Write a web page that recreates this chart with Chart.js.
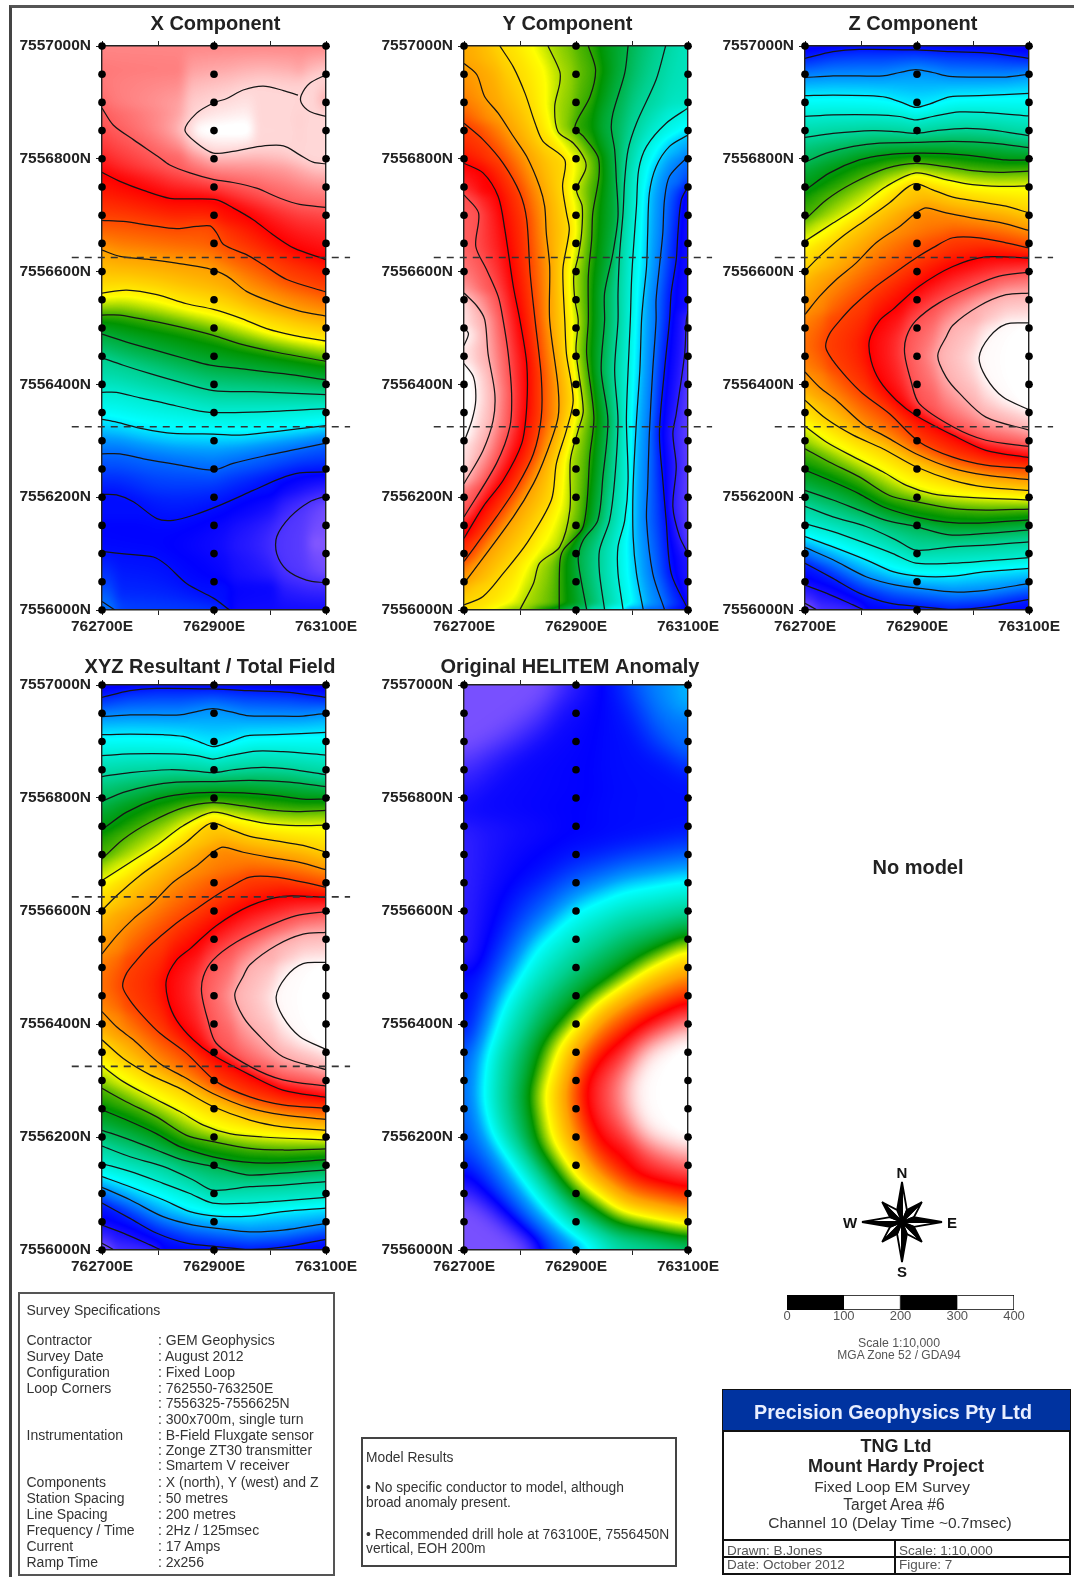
<!DOCTYPE html>
<html>
<head>
<meta charset="utf-8">
<title>Mount Hardy Fixed Loop EM</title>
<script src="https://cdn.jsdelivr.net/npm/chart.js@4/dist/chart.umd.min.js"></script>
<style>
  html, body { margin: 0; padding: 0; background: #fff; }
  #page { position: relative; width: 1074px; height: 1577px; overflow: hidden; background: #fff;
    font-family: "Liberation Sans", Arial, sans-serif; filter: blur(0.5px); }
  #page canvas { position: absolute; }
  .t { position: absolute; white-space: nowrap; transform: translateY(-50%); color: #333; }
  .c { transform: translate(-50%, -50%); }
  .box { position: absolute; box-sizing: border-box; }
</style>
</head>
<body>
<div id="page"></div>
<script>
  const EAST_0 = 762700;
  const NORTH_0 = 7556000;

  const stationEastings = [762700, 762900, 763100];
  const stationNorthings = [
    7556000, 7556050, 7556100, 7556150, 7556200, 7556250, 7556300, 7556350, 7556400, 7556450, 7556500,
    7556550, 7556600, 7556650, 7556700, 7556750, 7556800, 7556850, 7556900, 7556950, 7557000
  ];
  const loopNorthings = [7556625, 7556325];
  const loopExtentEast = [762646, 763143];

  // colour ramp, position 0..1 along the legendless scale of the maps
  const rampStops = [0, 0.14, 0.25, 0.30, 0.40, 0.50, 0.60, 0.70, 0.80, 0.99];
  const rampColors = ['#9966ff', '#0000ff', '#00a0ff', '#00ffff', '#00d090', '#009400', '#ffff00', '#ffa000', '#ff0000', '#ffffff'];

  // contours: [metres east of 762700, metres north of 7556000]
  const xLevels = [0.96, 0.96, 0.87, 0.80, 0.755, 0.70, 0.62, 0.52, 0.46, 0.40, 0.34, 0.29, 0.21, 0.148, 0.07, 0.148, 0.22];
  const xLines = [
    [[400,949],[371,934],[356,913],[356,899],[371,884],[400,875]],
    [[350,913],[324,921],[288,929],[252,922],[223,907],[199,899],[169,881],[148,851],[169,828],[199,810],[234,813],[282,822],[324,823],[353,807],[377,794],[400,791]],
    [[0,890],[20,860],[56,834],[100,804],[121,789],[157,775],[200,763],[234,758],[276,748],[318,730],[353,719],[400,714]],
    [[0,776],[32,760],[74,744],[121,730],[169,729],[205,727],[234,713],[270,692],[306,665],[342,642],[400,621]],
    [[0,691],[38,689],[86,682],[133,676],[169,680],[193,681],[205,668],[217,648],[258,630],[288,612],[330,586],[400,564]],
    [[0,638],[32,627],[80,622],[133,615],[187,606],[223,592],[258,565],[306,545],[353,530],[400,521]],
    [[0,562],[44,567],[98,559],[151,543],[199,533],[246,518],[294,499],[342,487],[400,477]],
    [[0,523],[32,523],[86,513],[139,502],[199,487],[246,472],[312,457],[400,441]],
    [[0,489],[44,475],[98,460],[151,445],[193,434],[246,428],[324,419],[400,408]],
    [[0,447],[38,434],[86,419],[139,404],[199,389],[270,387],[400,382]],
    [[0,386],[26,386],[68,376],[115,366],[163,355],[199,350],[270,351],[400,357]],
    [[0,338],[26,333],[74,321],[127,313],[199,312],[246,310],[306,316],[400,327]],
    [[0,277],[32,277],[74,268],[139,257],[199,248],[234,260],[294,274],[353,286],[400,296]],
    [[0,205],[26,204],[56,192],[98,162],[127,159],[163,168],[211,186],[270,212],[318,233],[353,243],[400,245]],
    [[400,202],[371,192],[336,165],[312,130],[312,100],[330,71],[365,53],[400,48]],
    [[0,104],[44,99],[92,94],[115,80],[151,47],[199,21],[228,0]],
    [[0,15],[23,0]]
  ];
  // undrawn form lines: colour read at edges and inside closures
  const xFormLevels = [0.90, 1, 0.93, 0.01, 0.03, 0.125, 0.18];
  const xFormLines = [
    [[0,1000],[400,1000]],
    [[165,851],[200,850],[270,850]],
    [[385,905],[400,905]],
    [[370,118],[400,118]],
    [[400,190],[400,60]],
    [[228,0],[400,0]],
    [[23,0],[228,0]]
  ];

  const yLevels = [0.10, 0.15, 0.22, 0.27, 0.33, 0.39, 0.45, 0.52, 0.57, 0.64, 0.70, 0.76, 0.80, 0.86, 0.93, 0.985, 0.985];
  const yLines = [
    [[400,530],[397,513],[394,454],[379,348],[373,313],[379,254],[373,183],[385,130],[400,100]],
    [[400,751],[388,727],[382,668],[379,621],[370,562],[367,513],[358,425],[349,313],[355,230],[361,159],[370,65],[400,1]],
    [[400,804],[367,769],[358,727],[355,668],[349,609],[343,550],[343,513],[337,425],[331,313],[328,218],[326,159],[337,65],[358,1]],
    [[400,842],[367,822],[343,786],[331,739],[328,668],[326,609],[320,550],[317,513],[314,425],[308,336],[302,218],[302,130],[308,65],[320,1]],
    [[400,890],[361,863],[326,822],[312,781],[308,716],[302,633],[299,580],[297,513],[293,425],[290,336],[293,230],[287,159],[275,112],[275,65],[284,1]],
    [[360,1000],[343,940],[308,863],[293,816],[287,763],[284,704],[278,633],[275,562],[275,513],[269,425],[275,336],[269,230],[260,159],[242,106],[242,65],[251,1]],
    [[293,1000],[287,952],[266,881],[263,854],[269,816],[272,763],[275,698],[266,633],[251,562],[251,513],[245,425],[257,336],[248,236],[239,159],[213,124],[204,94],[207,65],[219,1]],
    [[222,1000],[235,958],[225,910],[198,857],[213,840],[239,804],[241,769],[230,704],[228,657],[222,592],[222,513],[219,454],[232,342],[225,277],[213,148],[177,106],[171,83],[170,1]],
    [[150,1000],[171,955],[171,934],[162,893],[168,848],[195,828],[216,798],[217,781],[201,745],[211,716],[210,668],[204,627],[196,592],[198,550],[204,513],[200,460],[213,354],[204,319],[190,266],[189,177],[171,112],[135,83],[124,47],[100,1]],
    [[64,1000],[88,963],[109,916],[127,863],[141,831],[180,798],[176,751],[183,704],[188,674],[177,609],[177,574],[180,513],[183,454],[195,372],[183,319],[165,260],[156,195],[112,118],[70,65],[34,24],[0,9]],
    [[0,969],[23,949],[37,910],[61,881],[88,840],[112,804],[135,751],[144,716],[147,668],[153,609],[153,513],[168,395],[168,342],[147,277],[124,224],[88,165],[0,47]],
    [[0,863],[34,834],[70,792],[100,739],[112,692],[118,598],[127,513],[138,413],[138,342],[124,277],[94,218],[58,165],[0,86]],
    [[0,792],[34,775],[61,733],[73,674],[88,574],[100,513],[112,437],[112,360],[103,295],[70,230],[34,183],[0,127]],
    [[0,736],[26,704],[21,645],[40,604],[61,556],[70,513],[79,454],[85,384],[82,325],[58,260],[0,165]],
    [[0,562],[23,539],[37,515],[43,454],[55,384],[52,336],[34,283],[0,224]],
    [[0,437],[17,413],[21,372],[14,336],[0,298]],
    [[0,501],[8,490],[0,469]]
  ];
  const yFormLevels = [0.69, 0.97, 1, 0.97, 0.36, 0.12, 0.05, 0.11];
  const yFormLines = [
    [[0,1000],[0,969]],
    [[0,562],[0,437]],
    [[0,437],[0,298]],
    [[0,298],[0,224]],
    [[400,1000],[400,890]],
    [[400,751],[400,530]],
    [[400,530],[400,100]],
    [[400,100],[400,0]]
  ];

  const zLevels = [0.16, 0.24, 0.29, 0.34, 0.39, 0.44, 0.49, 0.53, 0.59, 0.65, 0.71, 0.71, 0.65, 0.59, 0.53, 0.49, 0.44, 0.39, 0.34, 0.29, 0.24, 0.16, 0.12, 0.05, 0.76, 0.80, 0.86, 0.93, 0.985];
  const zLines = [
    [[0,978],[50,990],[97,994],[198,993],[264,990],[335,987],[400,978]],
    [[0,944],[50,947],[97,947],[139,947],[169,953],[198,958],[228,953],[258,946],[311,945],[359,945],[400,950]],
    [[0,912],[50,913],[109,912],[145,909],[175,899],[198,891],[222,897],[258,910],[311,912],[400,916]],
    [[0,875],[50,878],[127,878],[169,875],[198,869],[228,875],[276,883],[323,882],[400,876]],
    [[0,838],[50,845],[121,850],[163,848],[198,845],[234,850],[287,854],[335,851],[400,841]],
    [[0,794],[38,810],[86,822],[133,828],[198,829],[264,831],[335,828],[400,820]],
    [[0,744],[44,775],[97,798],[145,807],[198,810],[252,809],[311,804],[359,798],[400,798]],
    [[0,692],[38,727],[86,757],[145,783],[198,792],[252,786],[299,779],[347,776],[400,778]],
    [[0,654],[50,686],[97,716],[145,751],[198,775],[252,763],[299,754],[347,751],[400,752]],
    [[0,601],[26,627],[68,663],[109,692],[151,722],[181,748],[198,756],[228,745],[264,732],[311,724],[359,716],[400,704]],
    [[0,524],[26,556],[56,586],[91,615],[127,651],[169,680],[198,704],[216,713],[252,704],[299,695],[353,686],[400,673]],
    [[0,422],[26,395],[56,372],[103,330],[145,307],[198,277],[264,251],[323,239],[400,231]],
    [[0,372],[38,339],[86,310],[139,286],[198,254],[264,230],[323,218],[400,212]],
    [[0,326],[38,298],[86,272],[139,245],[181,221],[228,206],[287,200],[400,195]],
    [[0,286],[44,262],[97,236],[151,203],[198,192],[264,180],[323,177],[400,179]],
    [[0,248],[44,230],[97,206],[139,183],[198,165],[252,156],[311,154],[400,160]],
    [[0,212],[50,195],[97,177],[145,159],[198,148],[258,133],[323,136],[400,142]],
    [[0,184],[50,165],[109,148],[163,124],[198,106],[264,112],[323,115],[400,121]],
    [[0,153],[50,139],[109,118],[157,100],[198,83],[264,83],[323,87],[400,93]],
    [[0,130],[50,112],[109,89],[157,68],[204,60],[264,60],[323,68],[400,74]],
    [[0,111],[50,89],[109,59],[163,44],[210,38],[264,32],[323,35],[400,47]],
    [[0,83],[50,56],[97,30],[151,12],[204,6],[264,1],[323,5],[400,19]],
    [[0,44],[38,30],[86,9],[103,1]],
    [[0,12],[20,1]],
    [[400,642],[359,651],[311,660],[264,660],[228,642],[198,624],[169,604],[127,574],[86,539],[62,513],[44,490],[37,466],[50,442],[74,413],[103,384],[151,348],[204,298],[264,271],[323,257],[400,251]],
    [[400,624],[323,626],[264,609],[204,574],[157,533],[133,513],[115,478],[118,442],[133,407],[163,372],[198,345],[264,310],[323,283],[400,270]],
    [[400,599],[347,592],[299,574],[240,545],[198,513],[181,484],[178,454],[189,407],[204,366],[264,325],[323,301],[400,290]],
    [[400,562],[359,559],[311,539],[264,505],[252,484],[237,451],[252,413],[276,384],[323,342],[400,319]],
    [[400,509],[359,507],[329,484],[311,448],[323,413],[353,378],[400,355]]
  ];
  const zFormLevels = [0.13, 1, 0.14, 0.08, 0.01];
  const zFormLines = [
    [[0,1000],[400,1000]],
    [[400,509],[400,355]],
    [[103,0],[400,0]],
    [[20,0],[103,0]],
    [[0,12],[0,0]]
  ];

  // the resultant plots the same as Z at this scale
  const xyzLevels = zLevels;
  const xyzLines = zLines;
  const xyzFormLevels = zFormLevels;
  const xyzFormLines = zFormLines;

  // the HELITEM map has no contours drawn, only the form lines behind its colours
  const helitemFormLevels = [1, 0.985, 0.80, 0.70, 0.60, 0.50, 0.40, 0.30, 0.22, 0.15, 0.15, 0.03, 0.03, 0.13, 0.15, 0.22, 0.27, 0.20, 0.09];
  const helitemFormLines = [
    [[400,370],[400,195]],
    [[400,380],[337,347],[302,297],[308,246],[343,206],[400,185]],
    [[400,441],[326,405],[248,347],[213,297],[216,246],[248,181],[308,130],[400,109]],
    [[400,496],[326,463],[248,412],[195,347],[177,275],[189,203],[230,137],[296,87],[400,65]],
    [[400,539],[326,499],[236,441],[171,369],[138,275],[153,195],[201,123],[278,65],[400,43]],
    [[400,554],[326,521],[213,441],[141,362],[117,275],[132,188],[189,109],[272,51],[400,22]],
    [[400,601],[284,572],[201,514],[129,441],[76,340],[70,260],[82,203],[135,130],[189,65],[260,22],[400,4]],
    [[400,655],[284,637],[201,601],[129,535],[70,434],[37,340],[31,268],[46,210],[94,145],[129,94],[189,29],[248,0]],
    [[400,691],[284,673],[189,637],[112,564],[52,456],[17,340],[11,275],[23,210],[70,123],[129,51],[201,0]],
    [[400,745],[284,724],[189,702],[88,630],[40,514],[0,369]],
    [[0,152],[70,72],[141,0]],
    [[0,87],[70,36],[129,0]],
    [[153,1000],[100,955],[11,894],[0,890]],
    [[236,1000],[201,948],[100,861],[0,760]],
    [[260,1000],[284,933],[326,868],[400,825]],
    [[320,1000],[349,948],[400,883]],
    [[400,1000],[400,950]],
    [[0,340],[0,210]],
    [[0,760],[0,500]]
  ];

  const surveyLabels = ['Contractor', 'Survey Date', 'Configuration', 'Loop Corners', '', '', 'Instrumentation', '', '', 'Components', 'Station Spacing', 'Line Spacing', 'Frequency / Time', 'Current', 'Ramp Time'];
  const surveyValues = [': GEM Geophysics', ': August 2012', ': Fixed Loop', ': 762550-763250E', ': 7556325-7556625N', ': 300x700m, single turn', ': B-Field Fluxgate sensor', ': Zonge ZT30 transmitter', ': Smartem V receiver', ': X (north), Y (west) and Z', ': 50 metres', ': 200 metres', ': 2Hz / 125msec', ': 17 Amps', ': 2x256'];
  const scaleSegments = [100, 100, 100, 100];

  const page = document.getElementById('page');

  function colorLut() {
    var lut = [];
    var rgb = rampColors.map(c => [1, 3, 5].map(i => parseInt(c.substr(i, 2), 16)));
    for (var i = 0; i <= 1000; i++) {
      var t = i / 1000;
      var k = 0;
      while (k < rampStops.length - 2 && t > rampStops[k + 1]) k++;
      var f = Math.min(1, (t - rampStops[k]) / (rampStops[k + 1] - rampStops[k]));
      lut.push(rgb[k].map((v, j) => v + f * (rgb[k + 1][j] - v)));
    }
    return lut;
  }
  const lut = colorLut();

  function toPoints(line) {
    return line.map(p => ({ x: EAST_0 + p[0], y: NORTH_0 + p[1] }));
  }

  function addCrossings(pts, level, cols, rows, w, h) {
    for (var i = 1; i < pts.length; i++) {
      var a = pts[i - 1], b = pts[i];
      var lo = Math.min(a.x, b.x), hi = Math.max(a.x, b.x);
      for (var c = Math.max(0, Math.ceil(lo - 0.5)); c < w && c + 0.5 < hi; c++) {
        cols[c].push({ p: a.y + (c + 0.5 - a.x) / (b.x - a.x) * (b.y - a.y), t: level });
      }
      lo = Math.min(a.y, b.y); hi = Math.max(a.y, b.y);
      for (var r = Math.max(0, Math.ceil(lo - 0.5)); r < h && r + 0.5 < hi; r++) {
        rows[r].push({ p: a.x + (r + 0.5 - a.y) / (b.y - a.y) * (b.x - a.x), t: level });
      }
    }
  }

  function boxBlur(values, w, h, r) {
    var out = new Float32Array(values.length);
    for (var y = 0; y < h; y++) {
      for (var x = 0; x < w; x++) {
        var sum = 0;
        for (var k = -r; k <= r; k++) sum += values[y * w + Math.max(0, Math.min(w - 1, x + k))];
        out[y * w + x] = sum / (2 * r + 1);
      }
    }
    var back = new Float32Array(values.length);
    for (x = 0; x < w; x++) {
      for (y = 0; y < h; y++) {
        sum = 0;
        for (k = -r; k <= r; k++) sum += out[Math.max(0, Math.min(h - 1, y + k)) * w + x];
        back[y * w + x] = sum / (2 * r + 1);
      }
    }
    return back;
  }

  // colour between contour lines, weighted on the nearest line in each of the four directions
  function renderField(chart, levels, lines, soften) {
    var area = chart.chartArea;
    var w = Math.round(area.width), h = Math.round(area.height);
    var cols = [], rows = [];
    for (var i = 0; i < w; i++) cols.push([]);
    for (i = 0; i < h; i++) rows.push([]);

    lines.forEach((line, n) => {
      var pts = toPoints(line).map(p => ({
        x: chart.scales.x.getPixelForValue(p.x) - area.left,
        y: chart.scales.y.getPixelForValue(p.y) - area.top
      }));
      addCrossings(pts, levels[n], cols, rows, w, h);
    });

    function nearest(list, pos, acc) {
      var before = null, after = null;
      for (var j = 0; j < list.length; j++) {
        var e = list[j];
        if (e.p <= pos) { if (!before || e.p > before.p) before = e; }
        else if (!after || e.p < after.p) after = e;
      }
      if (before) { var d = Math.max(pos - before.p, 0.3); acc.s += before.t / d; acc.w += 1 / d; }
      if (after) { d = Math.max(after.p - pos, 0.3); acc.s += after.t / d; acc.w += 1 / d; }
    }

    var values = new Float32Array(w * h);
    for (var y = 0; y < h; y++) {
      for (var x = 0; x < w; x++) {
        var acc = { s: 0, w: 0 };
        nearest(cols[x], y + 0.5, acc);
        nearest(rows[y], x + 0.5, acc);
        values[y * w + x] = acc.w ? acc.s / acc.w : 0.5;
      }
    }
    // three box passes take out the steps where a ray stops meeting a line
    for (i = 0; i < 3; i++) values = boxBlur(values, w, h, soften);

    var off = document.createElement('canvas');
    off.width = w; off.height = h;
    var octx = off.getContext('2d');
    var img = octx.createImageData(w, h);
    for (i = 0; i < values.length; i++) {
      var col = lut[Math.round(Math.min(1, Math.max(0, values[i])) * 1000)];
      img.data[i * 4] = col[0]; img.data[i * 4 + 1] = col[1]; img.data[i * 4 + 2] = col[2]; img.data[i * 4 + 3] = 255;
    }
    octx.putImageData(img, 0, 0);
    return off;
  }

  const fieldPlugin = {
    id: 'field',
    afterLayout(chart, args, opts) {
      // title centred where the sheet has it, not on the canvas
      chart.titleBlock.left = opts.titleX - 160;
      chart.titleBlock.right = opts.titleX + 160;
    },
    beforeDraw(chart, args, opts) {
      if (!chart.$field) chart.$field = renderField(chart, opts.levels, opts.lines, opts.soften);
      chart.ctx.drawImage(chart.$field, chart.chartArea.left, chart.chartArea.top);
    }
  };

  function mapChart(cfg) {
    var canvas = document.createElement('canvas');
    var headH = cfg.padTop + 20 + cfg.padBottom;
    var plotW = 224, axisW = 92, footH = 30, width = 392;
    var canvasLeft = cfg.plotLeft - axisW;
    canvas.width = width;
    canvas.height = headH + cfg.plotH + footH;
    canvas.style.left = canvasLeft + 'px';
    canvas.style.top = (cfg.plotTop - headH) + 'px';
    page.appendChild(canvas);

    var stations = [];
    stationEastings.forEach(e => stationNorthings.forEach(n => stations.push({ x: e, y: n })));

    var datasets = [{
      data: stations, showLine: false, pointRadius: 3.8, pointBackgroundColor: '#000', pointBorderWidth: 0, clip: false
    }];
    if (cfg.loop) {
      loopNorthings.forEach(n => datasets.push({
        data: loopExtentEast.map(e => ({ x: e, y: n })),
        showLine: true, pointRadius: 0, borderColor: '#333', borderWidth: 1.6, borderDash: [7, 6], clip: false
      }));
    }
    (cfg.lines || []).forEach(line => datasets.push({
      data: toPoints(line), showLine: true, pointRadius: 0, borderColor: '#161616', borderWidth: 1.25, tension: 0.3
    }));

    var levels = (cfg.levels || []).concat(cfg.formLevels);
    var lines = (cfg.lines || []).concat(cfg.formLines);
    var tickFont = { family: '"Liberation Sans"', weight: 'bold', size: 15.5, lineHeight: 1 };

    return new Chart(canvas, {
      type: 'scatter',
      data: { datasets: datasets },
      plugins: [fieldPlugin],
      options: {
        responsive: false,
        animation: false,
        events: [],
        layout: { padding: { left: 0, top: 0, bottom: 0, right: width - axisW - plotW } },
        plugins: {
          legend: { display: false },
          tooltip: { enabled: false },
          title: {
            display: true, text: cfg.title, color: '#222',
            font: { family: '"Liberation Sans"', weight: 'bold', size: 20, lineHeight: 1 },
            padding: { top: cfg.padTop, bottom: cfg.padBottom }
          },
          field: { levels: levels, lines: lines, soften: cfg.soften, titleX: cfg.titleX - canvasLeft }
        },
        scales: {
          x: {
            type: 'linear', min: 762700, max: 763100, position: 'bottom',
            afterFit: s => { s.height = footH; },
            grid: { drawOnChartArea: false, tickLength: 5, color: '#222' },
            border: { color: '#222', width: 1.4 },
            ticks: {
              stepSize: 100, autoSkip: false, maxRotation: 0, padding: 4, color: '#222', font: tickFont,
              callback: v => ((v - EAST_0) % 200 === 0 ? v + 'E' : '')
            }
          },
          y: {
            type: 'linear', min: 7556000, max: 7557000, position: 'left',
            afterFit: s => { s.width = axisW; },
            grid: { drawOnChartArea: false, tickLength: 6, color: '#222' },
            border: { color: '#222', width: 1.4 },
            ticks: { stepSize: 200, autoSkip: false, padding: 5, color: '#222', font: tickFont, callback: v => v + 'N' }
          },
          x2: {
            type: 'linear', axis: 'x', min: 762700, max: 763100, position: 'top',
            afterFit: s => { s.height = 0; },
            grid: { drawOnChartArea: false, tickLength: 5, color: '#222' },
            border: { color: '#222', width: 1.4 },
            ticks: { stepSize: 100, display: false }
          },
          y2: {
            type: 'linear', axis: 'y', min: 7556000, max: 7557000, position: 'right',
            afterFit: s => { s.width = 0; },
            grid: { drawOnChartArea: false, tickLength: 4, color: '#222' },
            border: { color: '#222', width: 1.4 },
            ticks: { stepSize: 200, display: false }
          }
        }
      }
    });
  }

  mapChart({ title: 'X Component', titleX: 215.5, plotLeft: 102, plotTop: 46, plotH: 564, padTop: 7, padBottom: 12, soften: 4, loop: true, levels: xLevels, lines: xLines, formLevels: xFormLevels, formLines: xFormLines });
  mapChart({ title: 'Y Component', titleX: 567.5, plotLeft: 464, plotTop: 46, plotH: 564, padTop: 7, padBottom: 12, soften: 3, loop: true, levels: yLevels, lines: yLines, formLevels: yFormLevels, formLines: yFormLines });
  mapChart({ title: 'Z Component', titleX: 913, plotLeft: 805, plotTop: 46, plotH: 564, padTop: 7, padBottom: 12, soften: 3, loop: true, levels: zLevels, lines: zLines, formLevels: zFormLevels, formLines: zFormLines });
  mapChart({ title: 'XYZ Resultant / Total Field', titleX: 210, plotLeft: 102, plotTop: 685, plotH: 565, padTop: 7, padBottom: 8, soften: 3, loop: true, levels: xyzLevels, lines: xyzLines, formLevels: xyzFormLevels, formLines: xyzFormLines });
  mapChart({ title: 'Original HELITEM Anomaly', titleX: 570, plotLeft: 464, plotTop: 685, plotH: 565, padTop: 7, padBottom: 8, soften: 9, loop: false, formLevels: helitemFormLevels, formLines: helitemFormLines });

  // scale bar
  (function () {
    var canvas = document.createElement('canvas');
    canvas.width = 267; canvas.height = 34;
    canvas.style.left = '767px'; canvas.style.top = '1295px';
    page.appendChild(canvas);
    new Chart(canvas, {
      type: 'bar',
      data: {
        labels: [''],
        datasets: scaleSegments.map((v, i) => ({
          data: [v], backgroundColor: i % 2 ? '#fff' : '#000', borderColor: '#000', borderWidth: 1,
          barPercentage: 1, categoryPercentage: 1
        }))
      },
      options: {
        indexAxis: 'y', responsive: false, animation: false, events: [],
        layout: { padding: { left: 20, right: 20 } },
        plugins: { legend: { display: false }, tooltip: { enabled: false } },
        scales: {
          x: {
            stacked: true, min: 0, max: 400, afterFit: s => { s.height = 19; },
            grid: { display: false, drawTicks: false }, border: { display: false },
            ticks: { stepSize: 100, padding: 0, color: '#555', font: { family: '"Liberation Sans"', size: 13, lineHeight: 1 } }
          },
          y: { stacked: true, display: false }
        }
      }
    });
  })();

  function put(text, x, y, size, css) {
    var d = document.createElement('div');
    d.className = 't';
    d.textContent = text;
    d.style.left = x + 'px';
    d.style.top = y + 'px';
    d.style.fontSize = size + 'px';
    d.style.cssText += css || '';
    page.appendChild(d);
    return d;
  }

  function box(x, y, w, h, css) {
    var d = document.createElement('div');
    d.className = 'box';
    d.style.cssText = 'left:' + x + 'px;top:' + y + 'px;width:' + w + 'px;height:' + h + 'px;' + css;
    page.appendChild(d);
  }

  // sheet frame
  box(9, 5, 1070, 1580, 'border-left:3px solid #444;border-top:3px solid #555;');

  put('No model', 918, 867, 20, 'font-weight:bold;color:#222;').classList.add('c');

  // survey specifications
  box(18, 1292, 317, 284, 'border:2px solid #555;');
  put('Survey Specifications', 26.5, 1310, 14);
  const surveyRows = [1340, 1356, 1372, 1388, 1403, 1419, 1435, 1450, 1465, 1482, 1498, 1514, 1530, 1546, 1562];
  surveyRows.forEach((y, i) => {
    if (surveyLabels[i]) put(surveyLabels[i], 26.5, y, 14);
    put(surveyValues[i], 158, y, 14);
  });

  // model results
  box(361, 1437, 316, 130, 'border:2px solid #444;');
  put('Model Results', 366, 1457, 13.8);
  put('\u2022 No specific conductor to model, although', 366, 1487, 13.8);
  put('broad anomaly present.', 366, 1502, 13.8);
  put('\u2022 Recommended drill hole at 763100E, 7556450N', 366, 1534, 13.8);
  put('vertical, EOH 200m', 366, 1548, 13.8);

  // title block
  box(722, 1389, 349, 186, 'border:2px solid #111;');
  box(723, 1390, 347, 42, 'background:#0033a0;border-bottom:2px solid #111;');
  put('Precision Geophysics Pty Ltd', 893, 1412, 19.7, 'font-weight:bold;color:#e8eeff;').classList.add('c');
  put('TNG Ltd', 896, 1446, 18, 'font-weight:bold;color:#222;').classList.add('c');
  put('Mount Hardy Project', 896, 1466, 18, 'font-weight:bold;color:#222;').classList.add('c');
  put('Fixed Loop EM Survey', 892, 1487, 15.4).classList.add('c');
  put('Target Area #6', 894, 1505, 15.6).classList.add('c');
  put('Channel 10 (Delay Time ~0.7msec)', 890, 1523, 15.5).classList.add('c');
  box(722, 1539, 349, 2, 'background:#111;');
  box(722, 1556, 349, 2, 'background:#111;');
  box(894, 1539, 2, 36, 'background:#111;');
  put('Drawn: B.Jones', 727, 1550, 13.5, 'color:#555;');
  put('Date: October 2012', 727, 1564, 13.5, 'color:#555;');
  put('Scale: 1:10,000', 899, 1550, 13.5, 'color:#555;');
  put('Figure: 7', 899, 1564, 13.5, 'color:#555;');

  // scale note
  put('Scale 1:10,000', 899, 1343, 12.3, 'color:#555;').classList.add('c');
  put('MGA Zone 52 / GDA94', 899, 1355, 12, 'color:#555;').classList.add('c');

  // north arrow
  (function () {
    var cx = 902, cy = 1222, s = '';
    for (var k = 0; k < 8; k++) {
      var a = k * Math.PI / 4;
      var r = k % 2 ? 28 : 40;
      var pt = (ang, rad) => (cx + Math.sin(ang) * rad).toFixed(1) + ',' + (cy - Math.cos(ang) * rad).toFixed(1);
      s += '<polygon points="' + cx + ',' + cy + ' ' + pt(a, r) + ' ' + pt(a + 0.39, 13) + '" fill="#fff" stroke="#000" stroke-width="1.8"/>';
      s += '<polygon points="' + cx + ',' + cy + ' ' + pt(a, r) + ' ' + pt(a - 0.39, 13) + '" fill="#000" stroke="#000" stroke-width="1.8"/>';
    }
    var holder = document.createElement('div');
    holder.innerHTML = '<svg width="1074" height="1577" style="position:absolute;left:0;top:0">' + s + '</svg>';
    page.appendChild(holder);
    put('N', 902, 1172, 15, 'font-weight:bold;color:#111;').classList.add('c');
    put('S', 902, 1271, 15, 'font-weight:bold;color:#111;').classList.add('c');
    put('W', 850, 1222, 15, 'font-weight:bold;color:#111;').classList.add('c');
    put('E', 952, 1222, 15, 'font-weight:bold;color:#111;').classList.add('c');
  })();
</script>
</body>
</html>
